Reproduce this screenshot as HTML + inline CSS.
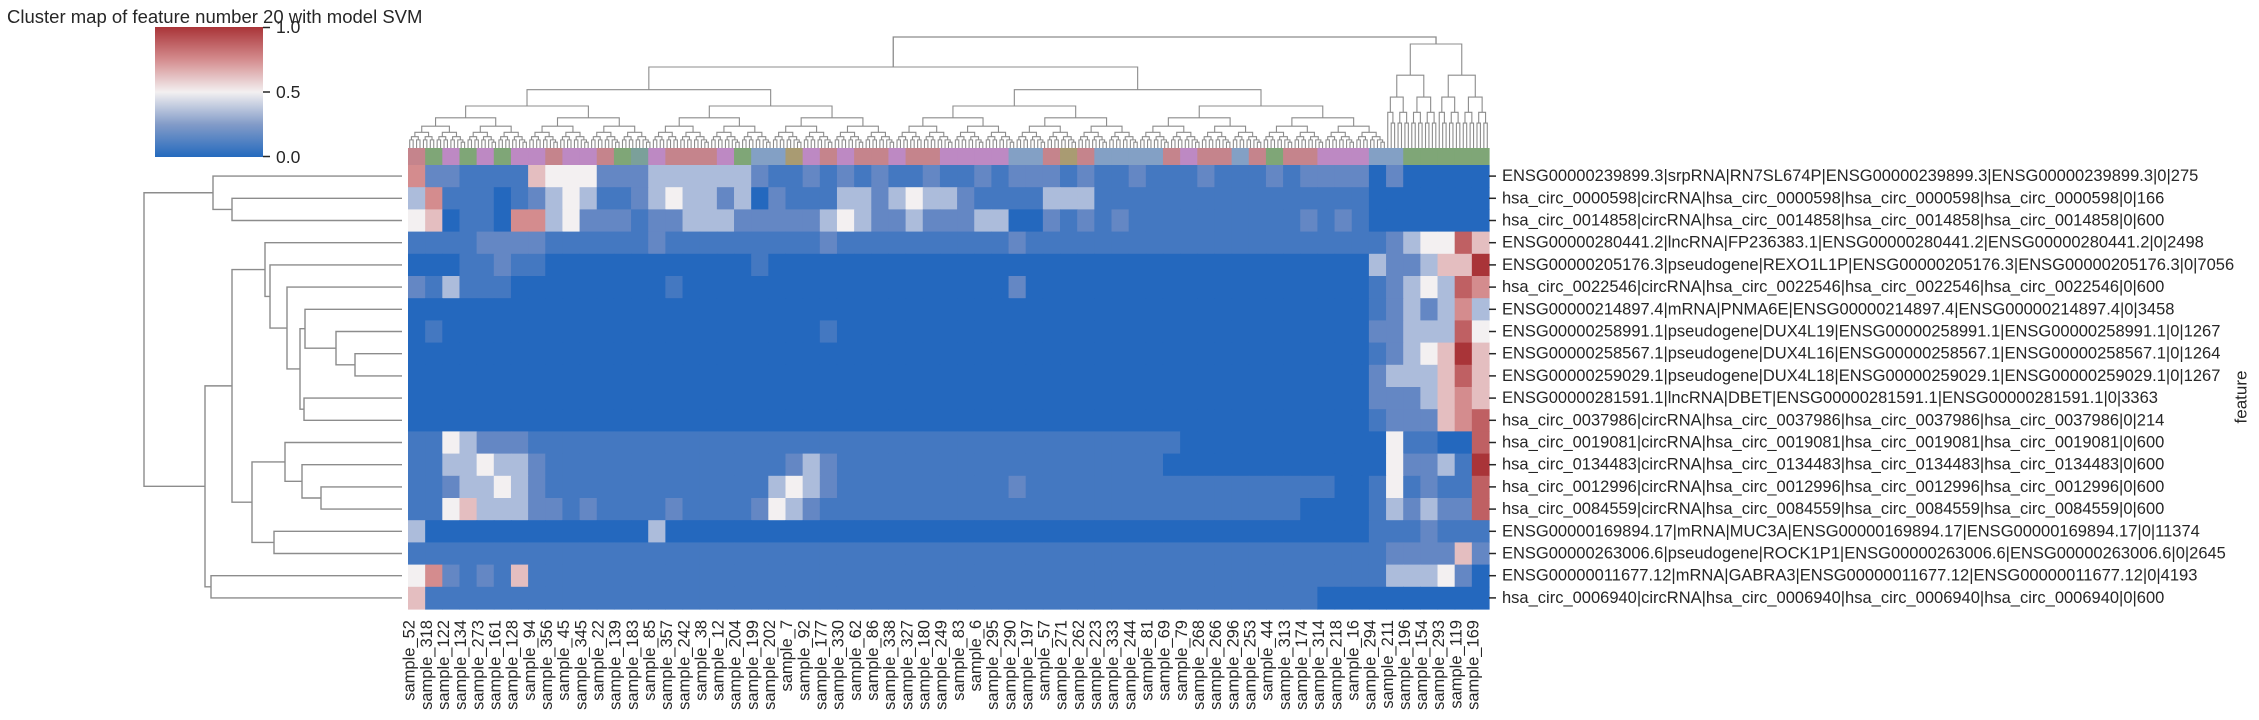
<!DOCTYPE html>
<html><head><meta charset="utf-8"><style>
html,body{margin:0;padding:0;background:#fff;}
svg{display:block;font-family:"Liberation Sans",Arial,sans-serif;}
</style></head><body>
<svg id="chart" width="2259" height="720" viewBox="0 0 2259 720" xmlns="http://www.w3.org/2000/svg">
<defs>
<linearGradient id="cbg" x1="0" y1="1" x2="0" y2="0">
<stop offset="0" stop-color="rgb(36,106,190)"/><stop offset="0.25" stop-color="rgb(130,155,200)"/><stop offset="0.5" stop-color="rgb(243,240,241)"/><stop offset="0.75" stop-color="rgb(212,140,142)"/><stop offset="1" stop-color="rgb(169,52,56)"/>
</linearGradient>
</defs>
<text x="7" y="23" font-size="18.5" fill="#262626">Cluster map of feature number 20 with model SVM</text>
<g>
<rect x="155" y="27" width="108" height="130" fill="url(#cbg)"/>
<line x1="263" y1="27.5" x2="270" y2="27.5" stroke="#262626" stroke-width="1.5"/>
<line x1="263" y1="92" x2="270" y2="92" stroke="#262626" stroke-width="1.5"/>
<line x1="263" y1="156.5" x2="270" y2="156.5" stroke="#262626" stroke-width="1.5"/>
<text x="276" y="27" font-size="17.5" fill="#262626" dominant-baseline="central">1.0</text>
<text x="276" y="92" font-size="17.5" fill="#262626" dominant-baseline="central">0.5</text>
<text x="276" y="157" font-size="17.5" fill="#262626" dominant-baseline="central">0.0</text>
</g>
<g id="coldendro"></g>
<g id="rowdendro"></g>
<g id="strip"></g>
<g id="heat"></g>
<g id="rowlabels"></g>
<g id="collabels"></g>
<text x="2241" y="397" font-size="17" fill="#262626" text-anchor="middle" dominant-baseline="central" transform="rotate(-90 2241 397)">feature</text>
</svg>
<script>
const features = ["ENSG00000239899.3|srpRNA|RN7SL674P|ENSG00000239899.3|ENSG00000239899.3|0|275","hsa_circ_0000598|circRNA|hsa_circ_0000598|hsa_circ_0000598|hsa_circ_0000598|0|166","hsa_circ_0014858|circRNA|hsa_circ_0014858|hsa_circ_0014858|hsa_circ_0014858|0|600","ENSG00000280441.2|lncRNA|FP236383.1|ENSG00000280441.2|ENSG00000280441.2|0|2498","ENSG00000205176.3|pseudogene|REXO1L1P|ENSG00000205176.3|ENSG00000205176.3|0|7056","hsa_circ_0022546|circRNA|hsa_circ_0022546|hsa_circ_0022546|hsa_circ_0022546|0|600","ENSG00000214897.4|mRNA|PNMA6E|ENSG00000214897.4|ENSG00000214897.4|0|3458","ENSG00000258991.1|pseudogene|DUX4L19|ENSG00000258991.1|ENSG00000258991.1|0|1267","ENSG00000258567.1|pseudogene|DUX4L16|ENSG00000258567.1|ENSG00000258567.1|0|1264","ENSG00000259029.1|pseudogene|DUX4L18|ENSG00000259029.1|ENSG00000259029.1|0|1267","ENSG00000281591.1|lncRNA|DBET|ENSG00000281591.1|ENSG00000281591.1|0|3363","hsa_circ_0037986|circRNA|hsa_circ_0037986|hsa_circ_0037986|hsa_circ_0037986|0|214","hsa_circ_0019081|circRNA|hsa_circ_0019081|hsa_circ_0019081|hsa_circ_0019081|0|600","hsa_circ_0134483|circRNA|hsa_circ_0134483|hsa_circ_0134483|hsa_circ_0134483|0|600","hsa_circ_0012996|circRNA|hsa_circ_0012996|hsa_circ_0012996|hsa_circ_0012996|0|600","hsa_circ_0084559|circRNA|hsa_circ_0084559|hsa_circ_0084559|hsa_circ_0084559|0|600","ENSG00000169894.17|mRNA|MUC3A|ENSG00000169894.17|ENSG00000169894.17|0|11374","ENSG00000263006.6|pseudogene|ROCK1P1|ENSG00000263006.6|ENSG00000263006.6|0|2645","ENSG00000011677.12|mRNA|GABRA3|ENSG00000011677.12|ENSG00000011677.12|0|4193","hsa_circ_0006940|circRNA|hsa_circ_0006940|hsa_circ_0006940|hsa_circ_0006940|0|600"];
const samples = [52,318,122,134,273,161,128,94,356,45,345,22,139,183,85,357,242,38,12,204,199,202,7,92,177,330,62,86,338,327,180,249,83,6,295,290,197,57,271,262,223,333,244,81,69,79,268,266,296,253,44,313,174,314,218,16,294,211,196,154,293,119,169];
const stripCats = "KGUGUGUUKUUKGTUKKKUGBBOUKUKKUKKUUUUBBKOKBBBBKUKKBKGKKUUUBBGGGGG";
// heat levels 0..8 (0 = 0.0, 8 = 1.0), one per sample group
const r0=[6,2,2,1,1,1,1,5,4,4,4,2,2,2,3,3,3,3,3,3,2,1,1,2,1,2,1,2,1,1,2,1,1,2,1,2,2,2,1,2,1,1,2,1,1,1,2,1,1,1,2,1,2,2,2,2,0,2,0,0,0,0,0];
const r1=[3,6,1,1,1,0,1,2,3,4,3,1,1,2,3,4,3,3,2,3,0,2,1,1,1,3,3,2,3,4,3,3,2,1,1,1,1,3,3,3,1,1,1,1,1,1,1,1,1,1,1,1,1,1,1,1,0,0,0,0,0,0,0];
const r2=[4,5,0,1,1,0,6,6,3,4,2,2,2,1,2,2,3,3,3,2,2,2,2,2,3,4,3,2,2,3,2,2,2,3,3,0,0,2,1,2,1,2,1,1,1,1,1,1,1,1,1,1,2,1,2,1,0,0,0,0,0,0,0];
const r3=[1,1,1,1,2,2,2,2,1,1,1,1,1,1,2,1,1,1,1,1,1,1,1,1,2,1,1,1,1,1,1,1,1,1,1,2,1,1,1,1,1,1,1,1,1,1,1,1,1,1,1,1,1,1,1,1,1,2,3,4,4,7,5];
const r4=[0,0,0,1,1,2,1,1,0,0,0,0,0,0,0,0,0,0,0,0,1,0,0,0,0,0,0,0,0,0,0,0,0,0,0,0,0,0,0,0,0,0,0,0,0,0,0,0,0,0,0,0,0,0,0,0,3,2,2,3,5,5,8];
const r5=[2,1,3,1,1,1,0,0,0,0,0,0,0,0,0,1,0,0,0,0,0,0,0,0,0,0,0,0,0,0,0,0,0,0,0,2,0,0,0,0,0,0,0,0,0,0,0,0,0,0,0,0,0,0,0,0,1,2,3,4,3,7,6];
const r6=[0,0,0,0,0,0,0,0,0,0,0,0,0,0,0,0,0,0,0,0,0,0,0,0,0,0,0,0,0,0,0,0,0,0,0,0,0,0,0,0,0,0,0,0,0,0,0,0,0,0,0,0,0,0,0,0,1,2,3,2,3,6,3];
const r7=[0,1,0,0,0,0,0,0,0,0,0,0,0,0,0,0,0,0,0,0,0,0,0,0,1,0,0,0,0,0,0,0,0,0,0,0,0,0,0,0,0,0,0,0,0,0,0,0,0,0,0,0,0,0,0,0,2,2,3,3,3,7,4];
const r8=[0,0,0,0,0,0,0,0,0,0,0,0,0,0,0,0,0,0,0,0,0,0,0,0,0,0,0,0,0,0,0,0,0,0,0,0,0,0,0,0,0,0,0,0,0,0,0,0,0,0,0,0,0,0,0,0,1,2,3,4,5,8,5];
const r9=[0,0,0,0,0,0,0,0,0,0,0,0,0,0,0,0,0,0,0,0,0,0,0,0,0,0,0,0,0,0,0,0,0,0,0,0,0,0,0,0,0,0,0,0,0,0,0,0,0,0,0,0,0,0,0,0,2,3,3,3,5,7,5];
const r10=[0,0,0,0,0,0,0,0,0,0,0,0,0,0,0,0,0,0,0,0,0,0,0,0,0,0,0,0,0,0,0,0,0,0,0,0,0,0,0,0,0,0,0,0,0,0,0,0,0,0,0,0,0,0,0,0,2,2,2,3,5,6,5];
const r11=[0,0,0,0,0,0,0,0,0,0,0,0,0,0,0,0,0,0,0,0,0,0,0,0,0,0,0,0,0,0,0,0,0,0,0,0,0,0,0,0,0,0,0,0,0,0,0,0,0,0,0,0,0,0,0,0,1,2,2,2,5,6,7];
const r12=[1,1,4,3,2,2,2,1,1,1,1,1,1,1,1,1,1,1,1,1,1,1,1,1,1,1,1,1,1,1,1,1,1,1,1,1,1,1,1,1,1,1,1,1,1,0,0,0,0,0,0,0,0,0,0,0,0,4,1,1,0,0,7];
const r13=[1,1,3,3,4,3,3,2,1,1,1,1,1,1,1,1,1,1,1,1,1,1,2,3,2,1,1,1,1,1,1,1,1,1,1,1,1,1,1,1,1,1,1,1,0,0,0,0,0,0,0,0,0,0,0,0,0,4,2,2,3,1,8];
const r14=[1,1,2,3,3,4,3,2,1,1,1,1,1,1,1,1,1,1,1,1,1,3,4,3,2,1,1,1,1,1,1,1,1,1,1,2,1,1,1,1,1,1,1,1,1,1,1,1,1,1,1,1,1,1,0,0,1,4,1,2,1,1,7];
const r15=[1,1,4,5,3,3,3,2,2,1,2,1,1,1,1,2,1,1,1,1,2,4,3,2,1,1,1,1,1,1,1,1,1,1,1,1,1,1,1,1,1,1,1,1,1,1,1,1,1,1,1,1,0,0,0,0,1,3,2,3,2,2,7];
const r16=[3,0,0,0,0,0,0,0,0,0,0,0,0,0,3,0,0,0,0,0,0,0,0,0,0,0,0,0,0,0,0,0,0,0,0,0,0,0,0,0,0,0,0,0,0,0,0,0,0,0,0,0,0,0,0,0,1,1,1,2,1,1,1];
const r17=[1,1,1,1,1,1,1,1,1,1,1,1,1,1,1,1,1,1,1,1,1,1,1,1,1,1,1,1,1,1,1,1,1,1,1,1,1,1,1,1,1,1,1,1,1,1,1,1,1,1,1,1,1,1,1,1,1,2,2,2,2,5,2];
const r18=[4,6,2,1,2,1,5,1,1,1,1,1,1,1,1,1,1,1,1,1,1,1,1,1,1,1,1,1,1,1,1,1,1,1,1,1,1,1,1,1,1,1,1,1,1,1,1,1,1,1,1,1,1,1,1,1,1,3,3,3,4,2,0];
const r19=[5,1,1,1,1,1,1,1,1,1,1,1,1,1,1,1,1,1,1,1,1,1,1,1,1,1,1,1,1,1,1,1,1,1,1,1,1,1,1,1,1,1,1,1,1,1,1,1,1,1,1,1,1,0,0,0,0,0,0,0,0,0,0];
// row dendrogram linkage: [childA, childB, height(px x)]
const rowLinks=[[8,9,355],[7,20,336],[6,21,305],[10,11,304],[22,23,300],[5,24,287],[4,25,270],[3,26,265],[14,15,321],[13,28,302],[12,29,285],[16,17,274],[30,31,252],[27,32,232],[18,19,211],[33,34,205],[1,2,232],[0,36,213],[37,35,144]];

const rows=[r0,r1,r2,r3,r4,r5,r6,r7,r8,r9,r10,r11,r12,r13,r14,r15,r16,r17,r18,r19];
const NS="http://www.w3.org/2000/svg";
const HX0=408,HX1=1489,HY0=165,HY1=609;
const nG=samples.length, nR=features.length;
const gW=(HX1-HX0)/nG, rH=(HY1-HY0)/nR;
const nLeaves=nG*5, lW=(HX1-HX0)/nLeaves;
const xG=g=>HX0+g*gW, yR=r=>HY0+r*rH;
const stops=[[0,36,104,190],[0.25,100,135,196],[0.5,243,240,241],[0.75,212,140,142],[1,169,52,56]];
function cmap(v){v=Math.max(0,Math.min(1,v));for(let i=1;i<stops.length;i++){if(v<=stops[i][0]){const a=stops[i-1],b=stops[i],t=(v-a[0])/(b[0]-a[0]);return `rgb(${[1,2,3].map(k=>Math.round(a[k]+(b[k]-a[k])*t)).join(',')})`;}}}
const catCol={K:"#c5848c",G:"#7fa677",U:"#bd89c3",B:"#83a0c5",O:"#a99b72",T:"#7ba09a"};
function mk(tag,attrs,parent){const e=document.createElementNS(NS,tag);for(const k in attrs)e.setAttribute(k,attrs[k]);parent.appendChild(e);return e;}
const heat=document.getElementById('heat');
rows.forEach((row,r)=>{row.forEach((d,g)=>{
  const c=mk('rect',{x:xG(g).toFixed(2),y:yR(r).toFixed(2),width:(gW+0.6).toFixed(2),height:(rH+0.6).toFixed(2),fill:cmap(d/8)},heat);
  
  
});});
const strip=document.getElementById('strip');
for(let g=0;g<nG;g++){
  const s=mk('rect',{x:xG(g).toFixed(2),y:148,width:(gW+0.6).toFixed(2),height:17,fill:catCol[stripCats[g]]||"#83a0c5"},strip);
  
  
}
const rl=document.getElementById('rowlabels');
features.forEach((f,r)=>{
  const yc=yR(r)+rH/2;
  mk('line',{x1:HX1,y1:yc,x2:HX1+7,y2:yc,stroke:"#262626","stroke-width":1.5},rl);
  const t=mk('text',{x:1502,y:yc,"font-size":16.5,fill:"#262626","dominant-baseline":"central"},rl);
  t.textContent=f;
  
  
});
const cl=document.getElementById('collabels');
samples.forEach((s,g)=>{
  const x=HX0+(g*5+0.5)*lW;
  const t=mk('text',{x:x,y:620,"font-size":16.5,fill:"#262626","text-anchor":"end","dominant-baseline":"central",transform:`rotate(-90 ${x} 620)`},cl);
  t.textContent="sample_"+s;
  
  
});
// row dendrogram
const rd=document.getElementById('rowdendro');
const pos={};
for(let i=0;i<nR;i++)pos[i]={x:402,y:yR(i)+rH/2};
rowLinks.forEach((L,i)=>{
  const a=pos[L[0]],b=pos[L[1]],h=L[2];
  mk('path',{d:`M${a.x},${a.y}H${h}V${b.y}H${b.x}`,fill:"none",stroke:"#8c8c8c","stroke-width":1.4},rd);
  pos[nR+i]={x:h,y:(a.y+b.y)/2};
});
// column dendrogram
const cd=document.getElementById('coldendro');
function build(lo,hi,y,f){
  if(hi-lo===1)return {x:HX0+(lo+0.5)*lW,y:148};
  const mid=Math.floor((lo+hi)/2);
  const cy=y+(148-y)*f;
  const a=build(lo,mid,cy,f),b=build(mid,hi,cy,f);
  mk('path',{d:`M${a.x},${a.y}V${y}H${b.x}V${b.y}`,fill:"none",stroke:"#8c8c8c","stroke-width":1.1},cd);
  return {x:(a.x+b.x)/2,y:y};
}
const split=285;
const L=build(0,split,67,0.28), R=build(split,nLeaves,44,0.3);
mk('path',{d:`M${L.x},${L.y}V37H${R.x}V${R.y}`,fill:"none",stroke:"#8c8c8c","stroke-width":1.3},cd);
</script>
</body></html>
